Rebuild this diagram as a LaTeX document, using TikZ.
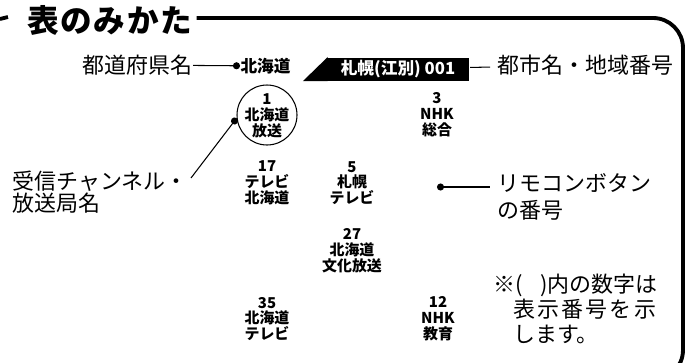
\documentclass[tikz,border=0pt]{standalone}
\usepackage{fontspec}
\setmainfont{Noto Sans CJK JP}
\usetikzlibrary{arrows.meta}
\tikzset{
  lbl/.style={font=\fontsize{12.5}{12.5}\selectfont, inner sep=0pt},
  chn/.style={font=\fontsize{8.5}{9}\selectfont\bfseries, align=center, inner sep=0pt},
  frame/.style={line width=2.2pt},
}
\begin{document}
\begin{tikzpicture}[x=0.02cm,y=-0.02cm,>=Stealth,semithick]
\useasboundingbox (0,0) rectangle (686,362);
\clip (0,0) rectangle (686,362);

\node[font=\fontsize{18}{18}\selectfont\bfseries\addfontfeatures{LetterSpace=5}, inner sep=0pt, anchor=west] (title) at (27,20) {表のみかた};
\draw[frame] (0,19) -- (8,17);
\draw[frame, rounded corners=0.6cm] ([xshift=0.08cm]title.east |- 0,18) -- (683,18) -- (683,380) -- (600,380);

\node[lbl, anchor=east] (pref) at (193,65) {都道府県名};
\node[font=\fontsize{9.5}{11}\selectfont\bfseries, inner sep=0pt, anchor=west] (hkd) at (240,66) {北海道};
\draw[-{Circle[length=4pt]}] (pref) -- (hkd);
\node[fill=black, text=white, font=\fontsize{9.5}{10}\selectfont\bfseries, inner sep=0pt,
      minimum width=2.86cm, minimum height=0.46cm] (area) at (398,69) {札幌(江別) 001};
\fill ([xshift=1pt]area.north west) -- ([xshift=-0.46cm]area.south west) -- ([xshift=1pt]area.south west) -- cycle;
\node[lbl, anchor=west, inner xsep=4pt] (city) at (490,65) {都市名・地域番号};
\draw (area) -- (city);

\node[draw, circle, minimum size=1.2cm, inner sep=0pt] (dial) at (267,115) {};
\foreach \n/\x/\y/\t in {1/267/116/{1\\北海道\\放送}, 3/437/115/{3\\NHK\\総合},
    17/267/183/{17\\テレビ\\北海道}, 5/352/183/{5\\札幌\\テレビ},
    27/352/251/{27\\北海道\\文化放送}, 35/267/319/{35\\北海道\\テレビ},
    12/438/319/{12\\NHK\\教育}}
{
    \node[chn] (ch\n) at (\x,\y) {\t};
}

\node[lbl, align=left, anchor=north west] (rx) at (12,170) {受信チャンネル・\\放送局名};
\coordinate (rxend) at (191,178);
\draw[{Circle[length=4pt]}-] (dial.186) -- (rxend);

\coordinate (btn) at (437,187);
\node[lbl, font=\fontsize{12.5}{15.5}\selectfont, align=left, anchor=north west] (remo) at (497,173) {リモコンボタン\\の番号};
\draw[{Circle[length=4pt]}-] (btn) -- ([xshift=-0.14cm]btn -| remo.west);

\node[lbl, font=\fontsize{12.5}{14.5}\selectfont, align=left, anchor=north west] (note) at (493,273)
    {※(\hspace{0.8em})内の数字は\\\hspace{0.9em}{\addfontfeatures{LetterSpace=10}表示番号を示}\\\hspace{0.9em}します。};
\end{tikzpicture}
\end{document}
